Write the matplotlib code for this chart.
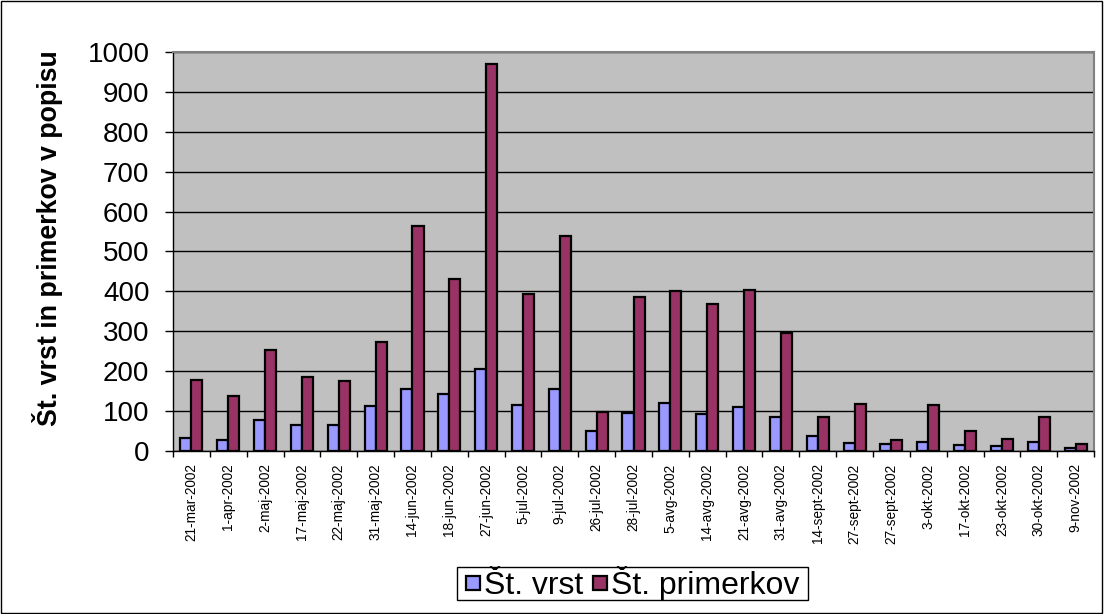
import numpy as np
import matplotlib
matplotlib.use("Agg")
from matplotlib import pyplot as plt
from matplotlib.patches import Rectangle
from matplotlib.lines import Line2D

dates = ["21-mar-2002", "1-apr-2002", "2-maj-2002", "17-maj-2002", "22-maj-2002",
         "31-maj-2002", "14-jun-2002", "18-jun-2002", "27-jun-2002", "5-jul-2002",
         "9-jul-2002", "26-jul-2002", "28-jul-2002", "5-avg-2002", "14-avg-2002",
         "21-avg-2002", "31-avg-2002", "14-sept-2002", "27-sept-2002", "27-sept-2002",
         "3-okt-2002", "17-okt-2002", "23-okt-2002", "30-okt-2002", "9-nov-2002"]
vrst = [32, 28, 77, 65, 64, 112, 155, 144, 206, 115, 155, 50,
        96, 120, 93, 110, 86, 38, 20, 18, 23, 16, 13, 23, 8]
primerkov = [178, 138, 253, 185, 175, 273, 565, 431, 970, 393, 540, 97,
             386, 400, 368, 403, 295, 86, 117, 28, 116, 50, 31, 85, 18]
series = ['Št. vrst', 'Št. primerkov']
colors = ['#9999FF', '#993366']

plt.rcParams['font.family'] = ['Liberation Sans', 'DejaVu Sans']

W, H = 1104, 614
fig = plt.figure(figsize=(W / 100, H / 100), dpi=100)
ax = fig.add_axes([0.1567, 0.2655, 0.8343, 0.6498])
ax.set_facecolor('#C0C0C0')

x = np.arange(len(dates)) + 0.5
w = 0.3
ax.bar(x - w / 2, vrst, w, color=colors[0], edgecolor='black', linewidth=1.6, zorder=3)
ax.bar(x + w / 2, primerkov, w, color=colors[1], edgecolor='black', linewidth=1.6, zorder=3)

ax.set_xlim(0, len(dates))
ax.set_ylim(0, 1000)
ax.set_yticks(range(0, 1001, 100))
ax.tick_params(axis='y', labelsize=20, length=6, width=1, pad=11)
ax.yaxis.grid(True, color='black', linewidth=1)
ax.set_axisbelow(True)

# ticks between categories, labels at centres
ax.set_xticks(np.arange(len(dates) + 1))
ax.set_xticklabels([])
ax.tick_params(axis='x', which='major', length=4, width=1)
ax.set_xticks(x, minor=True)
ax.set_xticklabels(dates, minor=True, rotation=90, fontsize=9.8)
ax.tick_params(axis='x', which='minor', length=0, pad=9)

for s in ['top', 'right']:
    ax.spines[s].set_color('#808080')
    ax.spines[s].set_linewidth(1.5)
for s in ['left', 'bottom']:
    ax.spines[s].set_color('black')
    ax.spines[s].set_linewidth(1)

ax.set_ylabel('Št. vrst in primerkov v popisu', fontsize=19.3, fontweight='bold')
ax.yaxis.set_label_coords(-0.1194, 0.5326)

# legend with square markers, frame drawn separately
handles = [Line2D([], [], marker='s', linestyle='none', markersize=9.5,
                  markerfacecolor=c, markeredgecolor='black', markeredgewidth=1.6)
           for c in colors]
leg = fig.legend(handles, series, loc='center',
                 bbox_to_anchor=(632.5 / W, 1 - 583.5 / H), ncol=2,
                 fontsize=23, frameon=False,
                 handlelength=0.45, handletextpad=0.12,
                 columnspacing=0.3, borderpad=0, borderaxespad=0)
fig.patches.append(Rectangle((457 / W, 1 - 600 / H), 351 / W, 33 / H,
                             transform=fig.transFigure, fill=False,
                             edgecolor='black', linewidth=1))

fig.patches.append(Rectangle((0.001, 0.001), 0.997, 0.997, transform=fig.transFigure,
                             fill=False, edgecolor='black', linewidth=1))

fig.savefig('out.png', dpi=100)
